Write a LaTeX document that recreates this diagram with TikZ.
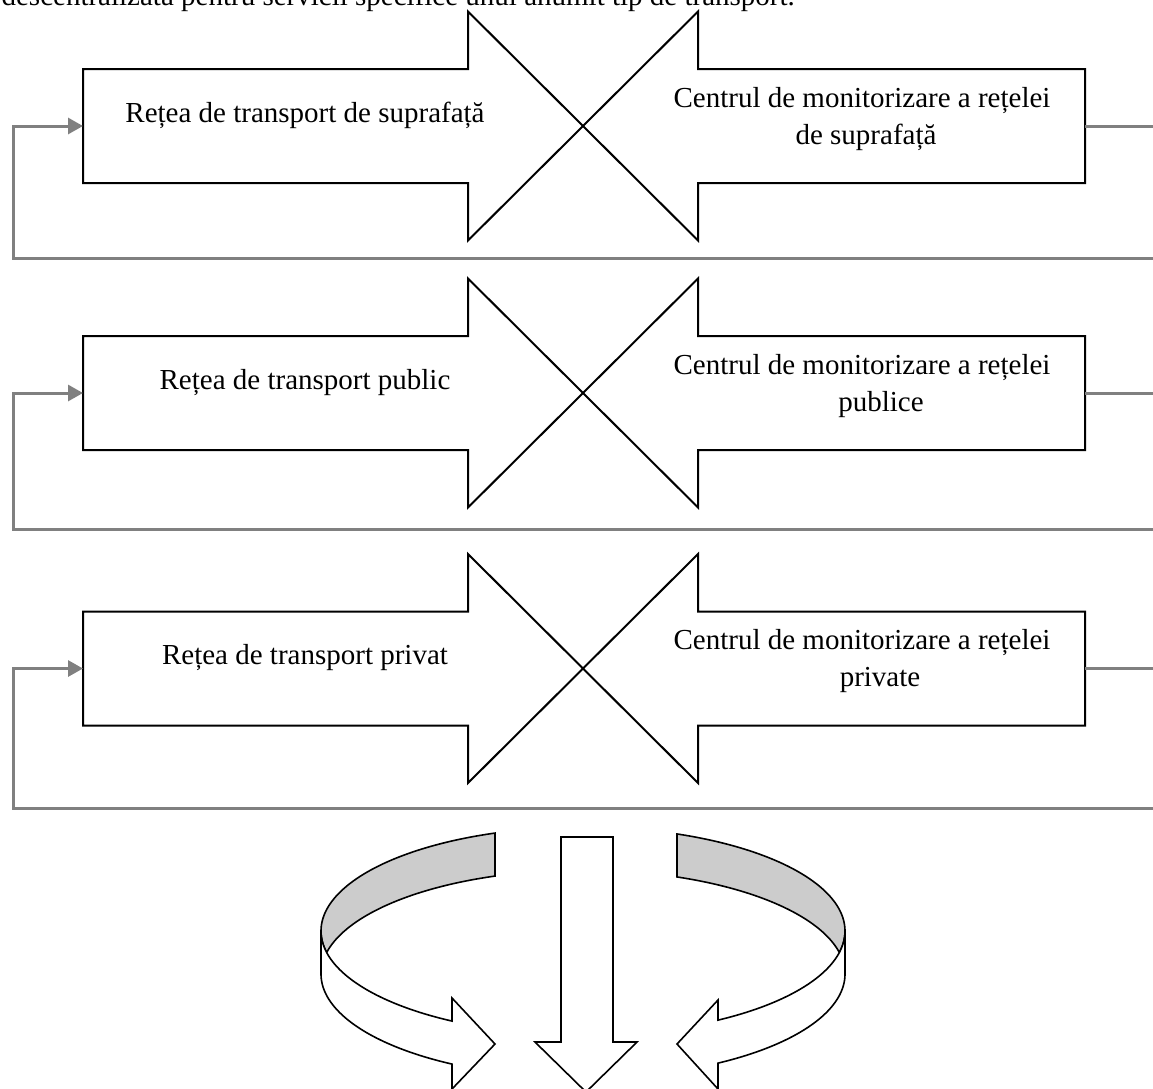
\documentclass[tikz,border=0pt]{standalone}
\usepackage{fontspec}
\setmainfont{Liberation Serif}
\usetikzlibrary{arrows.meta}
\definecolor{linkgray}{RGB}{128,128,128}
\definecolor{bandgray}{RGB}{204,204,204}
\begin{document}
\begin{tikzpicture}[x=1pt,y=-1pt,
  outline/.style={draw=black,line width=2pt,fill=white,line join=miter},
  band/.style={draw=black,line width=1.6pt,line join=miter},
  link/.style={draw=linkgray,line width=3pt},
  lbl/.style={font=\fontsize{29}{36}\selectfont,inner sep=0pt}]
\useasboundingbox (0,0) rectangle (1153,1088);
\clip (0,0) rectangle (1153,1088);
\fill[white] (0,0) rectangle (1153,1088);

\node[lbl,anchor=base east] (intro) at (795,5) {descentralizată pentru servicii specifice unui anumit tip de transport.};

\foreach \c/\b/\n/\lt/\rt/\rtt/\lx in {
  126/258/1/{Rețea de transport de suprafață}/{Centrul de monitorizare a rețelei}/{de suprafață}/866,
  393/529/2/{Rețea de transport public}/{Centrul de monitorizare a rețelei}/{publice}/881,
  668.5/808/3/{Rețea de transport privat}/{Centrul de monitorizare a rețelei}/{private}/880}{
  \draw[outline] (83,\c-57) -- (468,\c-57) -- (468,\c-114.5) -- (583,\c) -- (468,\c+114.5) -- (468,\c+57) -- (83,\c+57) -- cycle;
  \draw[outline] (1085,\c-57) -- (698,\c-57) -- (698,\c-114.5) -- (583,\c) -- (698,\c+114.5) -- (698,\c+57) -- (1085,\c+57) -- cycle;
  \coordinate (in\n) at (83,\c);
  \coordinate (out\n) at (1085,\c);
  \coordinate (far\n) at (1175,\c);
  \coordinate (back\n) at (13,\b);
  \draw[link,-{Triangle[length=15pt,width=16pt]}] (out\n) -- (far\n) |- (back\n) |- (in\n);
  \node[lbl,anchor=base] (src\n) at (305,\c-4) {\lt};
  \node[lbl,anchor=base] (mon\n) at (862,\c-19) {\rt};
  \node[lbl,anchor=base] (mond\n) at (\lx,\c+18) {\rtt};
}

% left curved arrow
\draw[band,fill=bandgray] plot[domain=250.37:168.07,samples=80] ({583+262*cos(\x)},{931+104*sin(\x)})
  -- plot[domain=191.93:250.37,samples=80] ({583+262*cos(\x)},{974+104*sin(\x)}) -- cycle;
\draw[band,fill=white] plot[domain=180:120,samples=80] ({583+262*cos(\x)},{931+104*sin(\x)})
  -- (452,998) -- (495,1044) -- (452,1089)
  -- plot[domain=120:180,samples=80] ({583+262*cos(\x)},{974+104*sin(\x)}) -- cycle;

% right curved arrow
\draw[band,fill=bandgray] plot[domain=291.03:371.93,samples=80] ({583+262*cos(\x)},{931+104*sin(\x)})
  -- plot[domain=348.07:291.03,samples=80] ({583+262*cos(\x)},{974+104*sin(\x)}) -- cycle;
\draw[band,fill=white] plot[domain=0:59,samples=80] ({583+262*cos(\x)},{931+104*sin(\x)})
  -- (718,1000) -- (677,1044) -- (718,1089)
  -- plot[domain=59:0,samples=80] ({583+262*cos(\x)},{974+104*sin(\x)}) -- cycle;

% down arrow
\draw[band,fill=white] (561,837) -- (613,837) -- (613,1042) -- (637,1042) -- (586,1092) -- (535,1042) -- (561,1042) -- cycle;
\end{tikzpicture}
\end{document}
